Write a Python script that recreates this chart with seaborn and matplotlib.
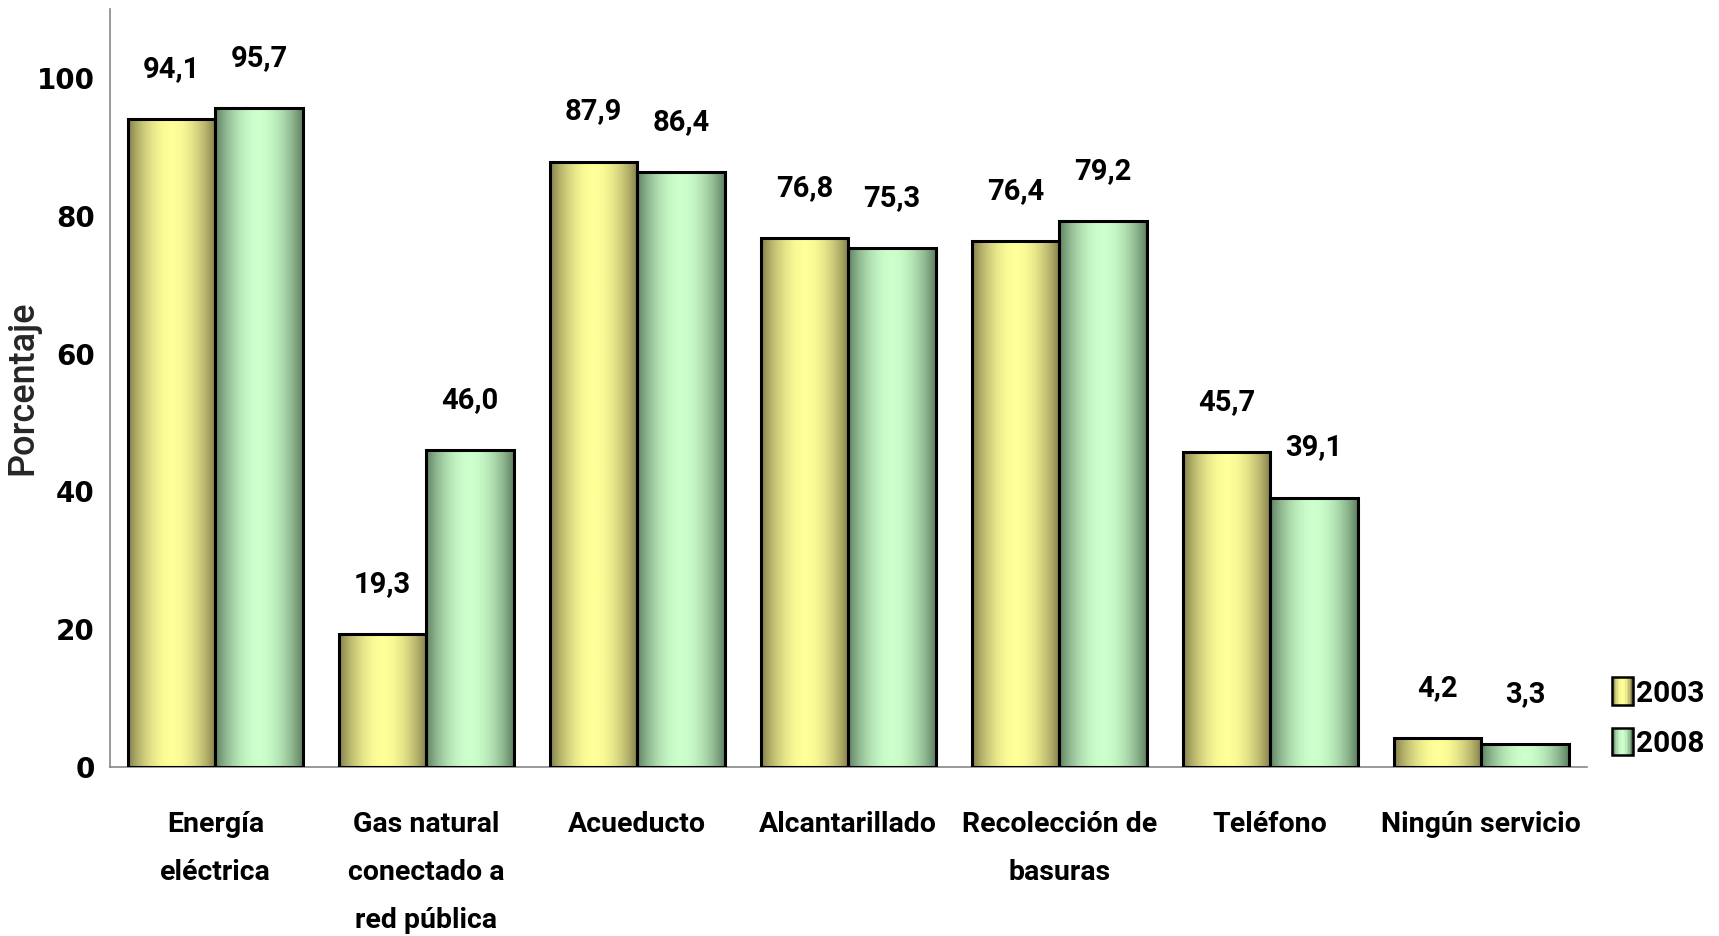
import numpy as np
import pandas as pd
import matplotlib
matplotlib.use("Agg")
import matplotlib.pyplot as plt
import seaborn as sns
from matplotlib.colors import LinearSegmentedColormap
from matplotlib.patches import Rectangle
from matplotlib.legend_handler import HandlerBase

# Data
categorias = ["Energía\neléctrica", "Gas natural\nconectado a\nred pública", "Acueducto",
              "Alcantarillado", "Recolección de\nbasuras", "Teléfono", "Ningún servicio"]
anios = ["2003", "2008"]
valores_2003 = [94.1, 19.3, 87.9, 76.8, 76.4, 45.7, 4.2]
valores_2008 = [95.7, 46.0, 86.4, 75.3, 79.2, 39.1, 3.3]

df = pd.DataFrame({
    "categoria": categorias * 2,
    "anio": [anios[0]] * len(categorias) + [anios[1]] * len(categorias),
    "valor": valores_2003 + valores_2008,
})

# edge (dark) and centre (light) colours of each series
colores = {"2003": ("#7d7848", "#ffff99"), "2008": ("#5a7a5c", "#ccffcc")}
fuente = ["Roboto", "DejaVu Sans"]


def perfil(n=200):
    t = np.linspace(0, 1, n)
    return np.sin(np.pi * t) ** 0.8


def cmap_for(anio):
    dark, light = colores[anio]
    return LinearSegmentedColormap.from_list(anio, [dark, light])


sns.set_style("white")
plt.rcParams["text.color"] = "black"
plt.rcParams["xtick.color"] = "black"
plt.rcParams["ytick.color"] = "black"

fig = plt.figure(figsize=(17.19, 9.36), dpi=100)
ax = fig.add_axes([0.064, 0.1806, 0.859, 0.8094])

sns.barplot(data=df, x="categoria", y="valor", hue="anio", hue_order=anios,
            order=categorias, width=0.83, gap=0, ax=ax, legend=False,
            palette=[colores[a][1] for a in anios], errorbar=None)

# gradient fill of every bar
n_cat = len(categorias)
grad = perfil()[None, :]
for i, patch in enumerate(ax.patches[: 2 * n_cat]):
    anio = anios[i // n_cat]
    x0, y0 = patch.get_x(), patch.get_y()
    w, h = patch.get_width(), patch.get_height()
    im = ax.imshow(grad, cmap=cmap_for(anio), vmin=0, vmax=1, aspect="auto",
                   extent=[x0, x0 + w, y0, y0 + h], zorder=2, interpolation="bilinear")
    im.set_clip_path(patch)
    patch.set_facecolor("none")
    patch.set_edgecolor("black")
    patch.set_linewidth(2.2)
    patch.set_zorder(3)
    lab = f"{h:.1f}".replace(".", ",")
    ax.annotate(lab, (x0 + w / 2, h), xytext=(0, 26), textcoords="offset points",
                ha="center", va="bottom", fontsize=21, fontweight="bold",
                family=fuente)

ax.set_xlim(-0.5, n_cat - 0.5)
ax.set_ylim(0, 110)
ax.set_yticks([0, 20, 40, 60, 80, 100])
ax.tick_params(axis="y", labelsize=20, length=8, width=1.2, color="#888888", pad=3)
for t in ax.get_yticklabels():
    t.set_fontweight("bold")
    t.set_family("DejaVu Sans")

ax.set_xticks(range(n_cat))
ax.set_xticklabels(categorias, fontsize=20.5, fontweight="bold", family=fuente,
                   linespacing=2.0)
ax.tick_params(axis="x", length=0, pad=32)
ax.set_xticks(np.arange(-0.5, n_cat, 1), minor=True)
ax.tick_params(axis="x", which="minor", length=11, width=1.2, color="#888888")

for s in ["top", "right"]:
    ax.spines[s].set_visible(False)
for s in ["left", "bottom"]:
    ax.spines[s].set_color("#888888")
    ax.spines[s].set_linewidth(1.2)

ax.set_xlabel("")
ax.set_ylabel("Porcentaje", fontsize=26, family=fuente, fontweight="medium")
ax.yaxis.set_label_coords(-0.047, 0.5)


class HandlerGradiente(HandlerBase):
    def create_artists(self, legend, orig_handle, xdescent, ydescent, width,
                       height, fontsize, trans):
        anio = orig_handle.get_label()
        cm = cmap_for(anio)
        n = 14
        vals = perfil(n)
        arts = []
        w = 15
        h = 20
        x0 = 0
        y0 = (height - h) / 2
        for k in range(n):
            arts.append(Rectangle((x0 + k * w / n, y0), w / n + 0.3, h,
                                  facecolor=cm(vals[k]), edgecolor="none",
                                  transform=trans))
        arts.append(Rectangle((x0, y0), w, h, facecolor="none",
                              edgecolor="black", linewidth=1.8, transform=trans))
        return arts


handles = [Rectangle((0, 0), 1, 1, label=a) for a in anios]
leg = fig.legend(handles=handles, labels=anios, loc="center left",
                 bbox_to_anchor=(0.929, 0.232), frameon=False, borderpad=0,
                 handler_map={Rectangle: HandlerGradiente()},
                 prop={"family": fuente, "size": 21.5, "weight": "bold"},
                 handlelength=0.5, handletextpad=0.3, labelspacing=0.75)

fig.savefig("out.png", dpi=100)
